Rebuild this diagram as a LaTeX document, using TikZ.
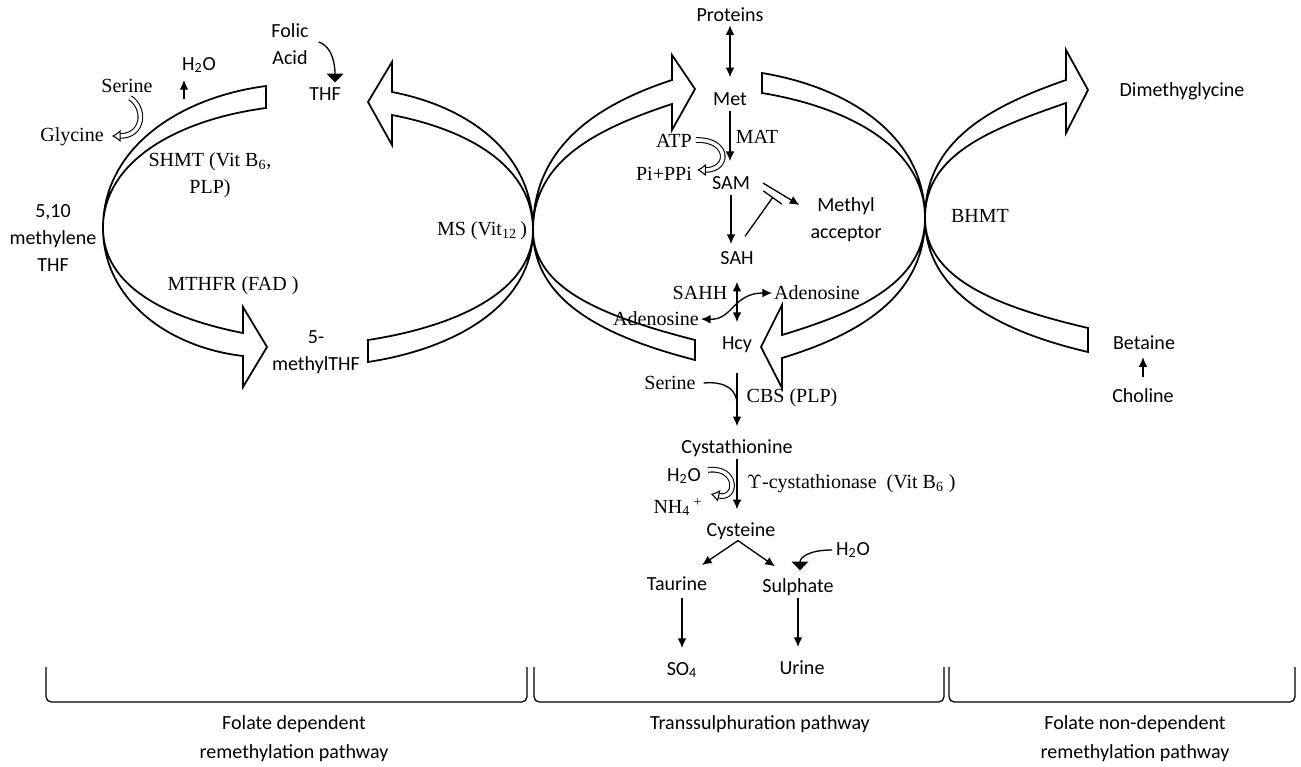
\documentclass[tikz,border=0pt]{standalone}
\usepackage{fontspec}
\setmainfont{Liberation Serif}
\newfontfamily\calibri{Carlito}
\usetikzlibrary{arrows.meta,calc}

\begin{document}
\begin{tikzpicture}[x=0.02cm,y=-0.02cm,
  every node/.style={inner sep=1pt,align=center,font=\fontsize{11.4}{15.4}\selectfont},
  sans/.style={font=\calibri\fontsize{11.4}{15.4}\selectfont},
  band/.style={draw=black,line width=1pt,fill=white},
  rxn/.style={draw=black,line width=0.75pt,arrows={-Latex[length=5.5pt,width=5pt]}},
  both/.style={draw=black,line width=0.75pt,arrows={Latex[length=5.5pt,width=5pt]-Latex[length=5.5pt,width=5pt]}},
  hollow/.style={draw=black,double,double distance=2pt,line width=0.6pt,arrows={-Latex[open,length=5pt,width=7pt]}},
  blob/.style={draw=black,line width=0.75pt,arrows={-Triangle[length=5pt,width=9.5pt]}},
  inhibit/.style={draw=black,line width=0.75pt,arrows={-Bar[width=13pt]}},
  brace/.style={draw=black,line width=0.75pt,rounded corners=3pt}]
\useasboundingbox (0,0) rectangle (1301,767);

% folate cycle
\draw [band] (266,86) .. controls (176,98) and (103,150) .. (103,228) .. controls (103,162) and (176,120) .. (266,108) -- cycle;
\draw [band] (103,228) .. controls (103,286) and (166,318) .. (243,333) -- (243,307) -- (267,347) -- (243,387) -- (243,356) .. controls (166,347) and (103,298) .. (103,228) -- cycle;
\draw [band] (533,230) .. controls (533,154) and (470,107) .. (392,92) -- (392,62) -- (368,102) -- (392,145) -- (392,115) .. controls (470,130) and (533,167) .. (533,230) -- cycle;
\draw [band] (533,230) .. controls (533,303) and (459,348) .. (368,362) -- (368,340) .. controls (459,326) and (533,290) .. (533,230) -- cycle;
% methionine cycle
\draw [band] (533,230) .. controls (533,147) and (596,105) .. (672,80) -- (672,55) -- (695,89) -- (672,130) -- (672,104) .. controls (596,129) and (533,161) .. (533,230) -- cycle;
\draw [band] (533,230) .. controls (533,302) and (606,337) .. (695,360) -- (695,340) .. controls (606,317) and (533,290) .. (533,230) -- cycle;
\draw [band] (925,218) .. controls (925,138) and (852,88) .. (762,73) -- (762,93) .. controls (852,108) and (925,149) .. (925,218) -- cycle;
\draw [band] (925,218) .. controls (925,282) and (861,311) .. (782,335) -- (782,305) -- (761,347) -- (782,388) -- (782,358) .. controls (861,334) and (925,295) .. (925,218) -- cycle;
% betaine cycle
\draw [band] (925,218) .. controls (925,142) and (988,107) .. (1066,80) -- (1066,50) -- (1088,90) -- (1066,133) -- (1066,103) .. controls (988,130) and (925,155) .. (925,218) -- cycle;
\draw [band] (925,218) .. controls (925,292) and (998,331) .. (1088,352) -- (1088,328) .. controls (998,307) and (925,279) .. (925,218) -- cycle;

% left side
\node (ser1) at (127,86) {Serine};
\node (gly) at (72,137) {Glycine};
\draw [hollow] ($(ser1.south)+(3,3)$) .. controls (146,108) and (144,136) .. ($(gly.east)+(6,-1)$);
\node [sans] (h2oT) at (199,65) {H\textsubscript{2}O};
\coordinate (shmtout) at (184,99);
\draw [rxn] (shmtout) -- ($(h2oT.south)+(-15,5)$);
\node [sans] (folic) at (290,44) {Folic\\Acid};
\node [sans] (thfT) at (325,94) {THF};
\draw [blob] ($(folic.east)+(8,-2)$) .. controls +(15,5) and +(0,-15) .. ($(thfT.north)+(10,-3)$);
\node (shmt) at (210,175) {SHMT (Vit B\textsubscript{6},\\PLP)};
\node [sans] (mthf) at (53,238) {5,10\\methylene\\THF};
\node (mthfr) at (233,286) {MTHFR (FAD )};
\node [sans] (mtthf) at (316,352) {5-\\methylTHF};
\node (ms) at (482,231) {MS (Vit\textsubscript{12}\,)};

% methionine / transsulphuration
\node [sans] (prot) at (730,15) {Proteins};
\node [sans] (met) at (730,99) {Met};
\draw [both, shorten <=0.7pt, shorten >=7.5pt] (prot.south) -- (prot.south |- met.north);
\node (mat) at (757,137) {MAT};
\node [sans] (sam) at (731,183) {SAM};
\draw [rxn, shorten <=1.8pt, shorten >=7.5pt] (met.south) -- (met.south |- sam.north);
\node (atp) at (674,141) {ATP};
\node (pipp) at (664,174) {Pi+PPi};
\draw [hollow] ($(atp.east)+(2,-1)$) .. controls (730,139) and (730,170) .. ($(pipp.east)+(3,-4)$);
\node [sans] (meth) at (846,220) {Methyl\\acceptor};
\draw [rxn] ($(sam.east)+(11,0)$) -- ($(meth.west)+(-9,-15)$);
\node [sans] (sah) at (737,258) {SAH};
\draw [rxn, shorten <=1.8pt, shorten >=3pt] (sam.south) -- (sam.south |- sah.north);
\draw [inhibit] ($(sah.north)+(8,-13)$) -- ($(sam.east)+(21,14)$);
\node (sahh) at (700,293) {SAHH};
\node [sans] (hcy) at (737,345) {Hcy};
\draw [both, shorten <=8.6pt, shorten >=7.3pt] (sah.south) -- (sah.south |- hcy.north);
\node (adL) at (656,319) {Adenosine};
\node (adR) at (817,293) {Adenosine};
\draw [both] (adL.east) .. controls (733,320) and (733,293) .. (adR.west);
\node (ser2) at (670,383) {Serine};
\node (cbs) at (792,398) {CBS (PLP)};
\node [sans] (cysta) at (737,448) {Cystathionine};
\draw [rxn, shorten <=10pt, shorten >=6.3pt] (hcy.south) -- (hcy.south |- cysta.north);
\coordinate (cbsin) at (737,404);
\draw [line width=0.75pt] ($(ser2.east)+(6,0)$) .. controls +(22,-2) and +(0,-14) .. (cbsin);
\node [sans] (h2oL) at (684,476) {H\textsubscript{2}O};
\node (nh4) at (678,507) {NH\textsubscript{4}\,\textsuperscript{+}};
\draw [hollow] ($(h2oL.east)+(5,-6)$) .. controls (738,466) and (738,500) .. ($(nh4.east)+(6,-13)$);
\node [anchor=west] (gcys) at (745,484) {$\Upsilon$-cystathionase\ \ (Vit B\textsubscript{6} )};
\node [sans] (cys) at (741,531) {Cysteine};
\draw [rxn, shorten >=6.3pt] (cysta.south) -- (cysta.south |- cys.north);
\node [sans] (taur) at (677,584) {Taurine};
\node [sans] (sulph) at (798,587) {Sulphate};
\draw [rxn] ($(cys.south)+(-3,-1)$) -- ($(taur.north)+(25,-10)$);
\draw [rxn] ($(cys.south)+(-3,-1)$) -- ($(sulph.north)+(-23,-10)$);
\node [sans] (h2oR) at (853,550) {H\textsubscript{2}O};
\draw [blob] ($(h2oR.west)+(-2,0)$) .. controls +(-25,0) and +(0,-12) .. ($(sulph.north)+(2,-6)$);
\node [sans] (so4) at (682,670) {SO\textsubscript{4}};
\node [sans] (urine) at (802,668) {Urine};
\draw [rxn, shorten <=3pt, shorten >=6.8pt] (taur.south -| so4) -- (so4.north);
\draw [rxn, shorten >=6.8pt] (sulph.south) -- (sulph.south |- urine.north);

% right side
\node (bhmt) at (980,216) {BHMT};
\node [sans] (dmg) at (1182,91) {Dimethyglycine};
\node [sans] (bet) at (1144,343) {Betaine};
\node [sans] (chol) at (1143,396) {Choline};
\draw [rxn, shorten <=5.7pt, shorten >=2.9pt] (chol.north) -- (chol.north |- bet.south);

% pathway brackets
\draw [brace] (46,667) -- (46,702) -- (527,702) -- (527,667);
\draw [brace] (534,667) -- (534,702) -- (944,702) -- (944,667);
\draw [brace] (949,667) -- (949,702) -- (1295,702) -- (1295,667);
\node [sans] (fdep) at (294,739) {Folate dependent\\[1pt]remethylation pathway};
\node [sans] (trans) at (760,724) {Transsulphuration pathway};
\node [sans] (fnon) at (1135,739) {Folate non-dependent\\[1pt]remethylation pathway};
\end{tikzpicture}
\end{document}
